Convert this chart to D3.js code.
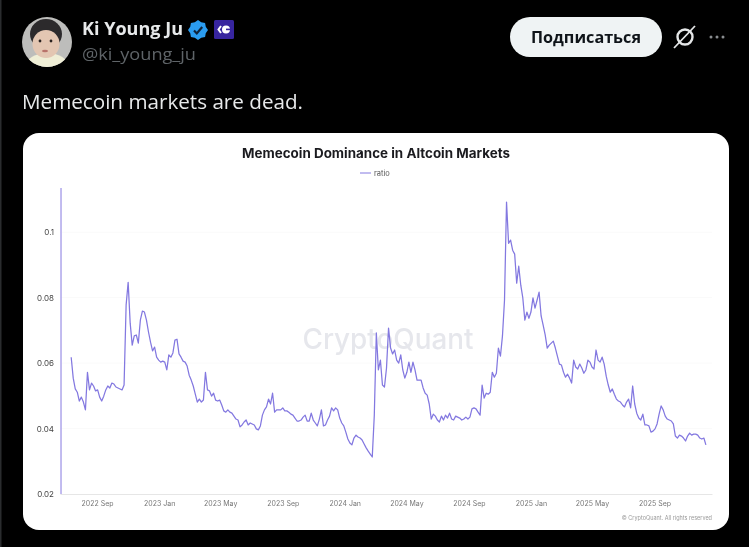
<!DOCTYPE html>
<html>
<head>
<meta charset="utf-8">
<style>
  html, body { margin: 0; padding: 0; background: #000; overflow: hidden; }
  text { font-family: Inter, "Liberation Sans", sans-serif; }
  svg { filter: blur(0.3px); }
</style>
</head>
<body>
<div id="chart"></div>
<script src="https://cdn.jsdelivr.net/npm/d3@7"></script>
<script>
const pageWidth = 749, pageHeight = 547

// values, one every 4 days
const startDate = "2022-07-12"
const stepDays = 4
const ratio = [
  .0618, .0554, .0521, .0511, .0484, .0496, .0481, .0457, .0572, .0518, .0539, .0530, .0515, .0518, .0496, .0484,
  .0499, .0518, .0530, .0524, .0539, .0536, .0527, .0524, .0521, .0518, .0533, .0777, .0847, .0722, .0655, .0683,
  .0686, .0661, .0731, .0759, .0756, .0731, .0695, .0664, .0637, .0649, .0618, .0609, .0603, .0606, .0603, .0579,
  .0625, .0618, .0631, .0670, .0673, .0628, .0618, .0606, .0603, .0591, .0563,
  .0548, .0530, .0505, .0481, .0490, .0481, .0487, .0572, .0518, .0515, .0499, .0508, .0487, .0484, .0487, .0472,
  .0454, .0450, .0457, .0450, .0447, .0438, .0429, .0426, .0405, .0411, .0420, .0426, .0411, .0417, .0414, .0411,
  .0399, .0396, .0408, .0441, .0457, .0466, .0490, .0475, .0508, .0450, .0457, .0457, .0457, .0463, .0454, .0454,
  .0450, .0444, .0441, .0432, .0423, .0423, .0426, .0435, .0441, .0423, .0423, .0447, .0426, .0417,
  .0408, .0429, .0457, .0408, .0411, .0426, .0438, .0463, .0454, .0463, .0457, .0432, .0417, .0408, .0389, .0368,
  .0356, .0350, .0371, .0380, .0374, .0371, .0365, .0353, .0341, .0331, .0322, .0313, .0441, .0692, .0579, .0609,
  .0533, .0527, .0585, .0707, .0646, .0628, .0640, .0609, .0600, .0625, .0579, .0554, .0572, .0603, .0572, .0603,
  .0579, .0548, .0548, .0548, .0524, .0508, .0502, .0475, .0429, .0444, .0438, .0426, .0420,
  .0438, .0426, .0441, .0432, .0447, .0429, .0426, .0438, .0435, .0432, .0426, .0429, .0435, .0429, .0435, .0460,
  .0463, .0460, .0450, .0441, .0533, .0493, .0508, .0505, .0511, .0572, .0557, .0569, .0646, .0621, .0683, .0792,
  .1092, .0966, .0976, .0945, .0933, .0844, .0896, .0838, .0799, .0731, .0756, .0737, .0756, .0799, .0768, .0792,
  .0817, .0744, .0716, .0686, .0646, .0655, .0661, .0667, .0646, .0621, .0597,
  .0594, .0572, .0557, .0566, .0554, .0539, .0609, .0588, .0582, .0597, .0585, .0569, .0579, .0609, .0603, .0588,
  .0582, .0640, .0609, .0603, .0618, .0597, .0560, .0533, .0511, .0521, .0505, .0490, .0484, .0481, .0472, .0466,
  .0481, .0490, .0463, .0530, .0475, .0447, .0432, .0426, .0444, .0411, .0411, .0408, .0389, .0392, .0399, .0414,
  .0444, .0469, .0457, .0438, .0429, .0426, .0423, .0414, .0377, .0371, .0380, .0377, .0371, .0362, .0377, .0386,
  .0380, .0383, .0383, .0380, .0371, .0368, .0371, .0350
]

// the stray first stretch of the series, straight up at the left edge
const edgeDates = ["2022-06-22", "2022-06-22"]
const edgeValues = [0.02, 0.1135]

const xTicks = ["2022-09-01", "2023-01-01", "2023-05-01", "2023-09-01", "2024-01-01",
  "2024-05-01", "2024-09-01", "2025-01-01", "2025-05-01", "2025-09-01"]
const yTicks = [0.02, 0.04, 0.06, 0.08, 0.1]

const parseDate = d3.utcParse("%Y-%m-%d")

const svg = d3.select("#chart")
  .append("svg")
  .attr("width", pageWidth)
  .attr("height", pageHeight)
  .style("display", "block")

svg.append("rect").attr("width", pageWidth).attr("height", pageHeight).attr("fill", "#000")
svg.append("rect").attr("x", 0).attr("y", 0).attr("width", 1.5).attr("height", pageHeight).attr("fill", "#2a2c2e")

/* ---- tweet header ---- */
svg.append("clipPath").attr("id", "avatar-clip").append("circle").attr("r", 25)
const avatar = svg.append("g").attr("transform", "translate(47,42)").attr("clip-path", "url(#avatar-clip)")
avatar.append("rect").attr("x", -25).attr("y", -25).attr("width", 50).attr("height", 50).attr("fill", "#bdbdbb")
avatar.append("ellipse").attr("cx", 0).attr("cy", 24).attr("rx", 21).attr("ry", 13).attr("fill", "#efeed6")
avatar.append("ellipse").attr("cx", -1).attr("cy", -8).attr("rx", 16).attr("ry", 15).attr("fill", "#2c2a2c")
avatar.append("ellipse").attr("cx", -1).attr("cy", 2).attr("rx", 13.5).attr("ry", 14).attr("fill", "#e3c6b2")
avatar.append("circle").attr("cx", -7).attr("cy", -1).attr("r", 1.4).attr("fill", "#2a2220")
avatar.append("circle").attr("cx", 4).attr("cy", -1).attr("r", 1.4).attr("fill", "#2a2220")
avatar.append("ellipse").attr("cx", -2).attr("cy", 9).attr("rx", 3).attr("ry", 1.2).attr("fill", "#b8736a")

svg.append("text")
  .attr("x", 82).attr("y", 35)
  .attr("fill", "#e7e9ea").attr("font-size", 17.5).attr("font-weight", 700)
  .style("font-family", '"Open Sans", sans-serif')
  .attr("textLength", 101).attr("lengthAdjust", "spacingAndGlyphs")
  .text("Ki Young Ju")

svg.append("text")
  .attr("x", 82).attr("y", 60)
  .attr("fill", "#5f6468").attr("font-size", 17)
  .style("font-family", '"Open Sans", sans-serif')
  .attr("textLength", 114).attr("lengthAdjust", "spacingAndGlyphs")
  .text("@ki_young_ju")

svg.append("text")
  .attr("x", 22).attr("y", 109)
  .attr("fill", "#e7e9ea").attr("font-size", 20.5)
  .style("font-family", '"Open Sans", sans-serif')
  .attr("textLength", 281).attr("lengthAdjust", "spacingAndGlyphs")
  .text("Memecoin markets are dead.")

// verified badge
const badge = svg.append("g").attr("transform", "translate(198,30)")
badge.append("path")
  .attr("d", d3.range(0, 16).map(i => {
    const a = i * Math.PI / 8, r = i % 2 ? 8.4 : 10
    return (i ? "L" : "M") + (r * Math.cos(a)) + "," + (r * Math.sin(a))
  }).join("") + "Z")
  .attr("fill", "#2a9cf0")
badge.append("path")
  .attr("d", "M-4,0.5L-1.2,3.4L4.2,-3")
  .attr("fill", "none").attr("stroke", "#10243a").attr("stroke-width", 2.2)

// affiliate badge
svg.append("rect").attr("x", 214).attr("y", 20).attr("width", 20).attr("height", 19).attr("rx", 1.5).attr("fill", "#37259f")
svg.append("circle").attr("cx", 226).attr("cy", 29.5).attr("r", 4).attr("fill", "#fff")
svg.append("path").attr("d", "M221,26L218.5,29.5L221,33").attr("fill", "none").attr("stroke", "#fff").attr("stroke-width", 2)
svg.append("rect").attr("x", 226).attr("y", 28.6).attr("width", 4.5).attr("height", 1.6).attr("fill", "#37259f")

// subscribe button
svg.append("rect").attr("x", 510).attr("y", 17).attr("width", 152).attr("height", 40).attr("rx", 20).attr("fill", "#eff3f4")
svg.append("text")
  .attr("x", 586).attr("y", 42.5).attr("text-anchor", "middle")
  .attr("fill", "#0f1419").attr("font-size", 15.5).attr("font-weight", 700)
  .style("font-family", '"Open Sans", sans-serif')
  .attr("textLength", 110).attr("lengthAdjust", "spacingAndGlyphs")
  .text("Подписаться")

// grok-ish icon + dots
svg.append("circle").attr("cx", 685).attr("cy", 37).attr("r", 7.5).attr("fill", "none").attr("stroke", "#e4e6e7").attr("stroke-width", 2.4)
svg.append("path").attr("d", "M674,48L695,26").attr("stroke", "#e4e6e7").attr("stroke-width", 1.8)
svg.selectAll(".dot").data([711, 717, 723]).join("circle")
  .attr("class", "dot")
  .attr("cx", d => d).attr("cy", 37).attr("r", 1.5).attr("fill", "#8a8d90")

/* ---- chart card ---- */
svg.append("rect").attr("x", 23).attr("y", 133).attr("width", 706).attr("height", 397).attr("rx", 16).attr("fill", "#fff")

const margin = { top: 188, right: 37, bottom: 53, left: 60 }

const xPositionScale = d3.scaleUtc()
  .domain([parseDate("2022-06-20"), parseDate("2025-12-23")])
  .range([margin.left, pageWidth - margin.right])

const yPositionScale = d3.scaleLinear()
  .domain([0.02, 0.1135])
  .range([pageHeight - margin.bottom, margin.top])

// grid
svg.append("g")
  .selectAll("line")
  .data(yTicks.slice(1))
  .join("line")
  .attr("x1", xPositionScale.range()[0])
  .attr("x2", xPositionScale.range()[1])
  .attr("y1", d => yPositionScale(d))
  .attr("y2", d => yPositionScale(d))
  .attr("stroke", "#fafafa")

svg.append("text")
  .attr("x", 388).attr("y", 349).attr("text-anchor", "middle")
  .attr("fill", "#e6e7ec").attr("font-size", 28.5).attr("font-weight", 500)
  .attr("textLength", 171).attr("lengthAdjust", "spacingAndGlyphs")
  .text("CryptoQuant")

const xAxis = d3.axisBottom(xPositionScale)
  .tickValues(xTicks.map(parseDate))
  .tickFormat(d3.utcFormat("%Y %b"))
  .tickSize(0)
  .tickPadding(7)

svg.append("g")
  .attr("class", "axis x-axis")
  .attr("transform", "translate(0," + yPositionScale(0.02) + ")")
  .call(xAxis)
  .call(g => g.select(".domain").attr("stroke", "#e6e6e6"))
  .call(g => g.selectAll("text").attr("fill", "#777").attr("font-size", 7).style("font-family", "Inter, sans-serif"))

const yAxis = d3.axisLeft(yPositionScale)
  .tickValues(yTicks)
  .tickFormat(d => d3.format("~g")(d))
  .tickSize(0)
  .tickPadding(6)

svg.append("g")
  .attr("class", "axis y-axis")
  .attr("transform", "translate(" + margin.left + ",0)")
  .call(yAxis)
  .call(g => g.select(".domain").remove())
  .call(g => g.selectAll("text").attr("fill", "#444").attr("font-size", 8).style("font-family", "Inter, sans-serif"))

const line = d3.line()
  .x(d => xPositionScale(d.date))
  .y(d => yPositionScale(d.value))

const start = parseDate(startDate)
const datapoints = ratio.map((v, i) => ({ date: d3.utcDay.offset(start, i * stepDays), value: v }))
const edge = edgeValues.map((v, i) => ({ date: parseDate(edgeDates[i]), value: v }))

svg.append("path")
  .datum(edge)
  .attr("fill", "none")
  .attr("stroke", "#b3abec")
  .attr("stroke-width", 1.6)
  .attr("d", line)

svg.append("path")
  .datum(datapoints)
  .attr("fill", "none")
  .attr("stroke", "#8378e0")
  .attr("stroke-width", 1.25)
  .attr("stroke-linejoin", "round")
  .attr("d", line)

// title and legend
svg.append("text")
  .attr("x", 376).attr("y", 158).attr("text-anchor", "middle")
  .attr("fill", "#1b1b1f").attr("font-size", 13).attr("font-weight", 700)
  .attr("textLength", 268).attr("lengthAdjust", "spacingAndGlyphs")
  .text("Memecoin Dominance in Altcoin Markets")

svg.append("line").attr("x1", 360).attr("x2", 371).attr("y1", 173).attr("y2", 173).attr("stroke", "#8378e0").attr("stroke-width", 1)
svg.append("text")
  .attr("x", 374).attr("y", 175.5)
  .attr("fill", "#555").attr("font-size", 7.5)
  .text("ratio")

svg.append("text")
  .attr("x", 712).attr("y", 520).attr("text-anchor", "end")
  .attr("fill", "#999").attr("font-size", 5.5)
  .text("© CryptoQuant. All rights reserved")
</script>
</body>
</html>
